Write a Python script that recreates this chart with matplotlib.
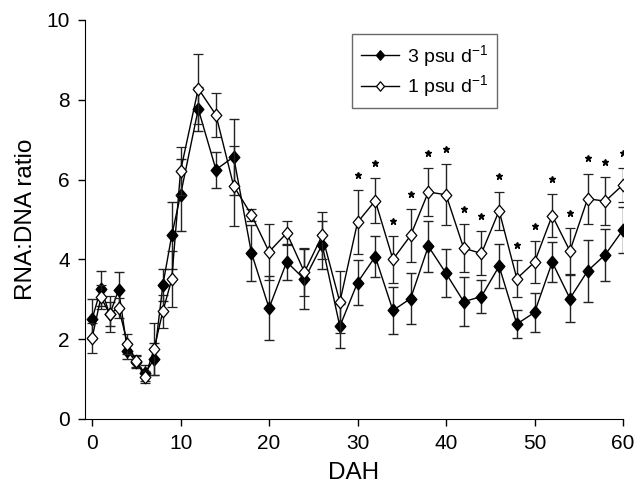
import numpy as np
import matplotlib
matplotlib.use('agg')
import matplotlib.pyplot as plt
from matplotlib.path import Path

## data
days = [0, 1, 2, 3, 4, 5, 6, 7, 8, 9, 10, 12, 14, 16, 18, 20, 22, 24, 26, 28,
        30, 32, 34, 36, 38, 40, 42, 44, 46, 48, 50, 52, 54, 56, 58, 60]

psu3 = [2.50, 3.27, 2.62, 3.24, 1.71, 1.42, 1.15, 1.50, 3.36, 4.60, 5.62, 7.77,
        6.25, 6.57, 4.17, 2.78, 3.94, 3.50, 4.37, 2.32, 3.42, 4.07, 2.72, 3.02,
        4.33, 3.65, 2.94, 3.07, 3.83, 2.38, 2.67, 3.93, 3.02, 3.71, 4.12, 4.74]
psu3_err = [0.50, 0.43, 0.30, 0.45, 0.20, 0.15, 0.20, 0.40, 0.40, 0.85, 0.90, 0.55,
            0.45, 0.95, 0.70, 0.80, 0.45, 0.75, 0.60, 0.55, 0.56, 0.52, 0.60, 0.65,
            0.64, 0.60, 0.62, 0.42, 0.55, 0.35, 0.50, 0.50, 0.60, 0.78, 0.65, 0.58]

psu1 = [2.03, 3.05, 2.63, 2.79, 1.89, 1.45, 1.05, 1.75, 2.70, 3.50, 6.22, 8.28,
        7.62, 5.84, 5.12, 4.19, 4.66, 3.68, 4.60, 2.93, 4.93, 5.47, 4.00, 4.60,
        5.69, 5.62, 4.28, 4.15, 5.22, 3.52, 3.93, 5.10, 4.21, 5.52, 5.46, 5.87]
psu1_err = [0.38, 0.30, 0.45, 0.25, 0.25, 0.15, 0.15, 0.65, 0.42, 0.70, 0.60, 0.88,
            0.55, 1.00, 0.15, 0.70, 0.30, 0.60, 0.60, 0.77, 0.80, 0.56, 0.58, 0.67,
            0.60, 0.77, 0.60, 0.55, 0.48, 0.47, 0.53, 0.53, 0.57, 0.63, 0.60, 0.42]

# days with a significant difference (asterisk)
sig_days = [30, 32, 34, 36, 38, 40, 42, 44, 46, 48, 50, 52, 54, 56, 58, 60]

plt.rcParams['font.family'] = ['Liberation Sans', 'DejaVu Sans']
plt.rcParams['mathtext.fontset'] = 'custom'
plt.rcParams['mathtext.rm'] = 'Liberation Sans'
plt.rcParams['mathtext.it'] = 'Liberation Sans'

# slightly tall diamond like the original figure
diamond = Path([(0, 1), (0.85, 0), (0, -1), (-0.85, 0), (0, 1)],
               [Path.MOVETO, Path.LINETO, Path.LINETO, Path.LINETO, Path.CLOSEPOLY])

fig = plt.figure(figsize=(6.43, 4.87), dpi=100)
ax = fig.add_axes([85/643, 68/487, 538/643, 399/487])

eb3 = ax.errorbar(days, psu3, yerr=psu3_err, color='black', ecolor='#222222',
                  elinewidth=1, capsize=3.8, capthick=1, lw=1, marker=diamond, ms=9,
                  mfc='black', mec='black', zorder=2)
eb1 = ax.errorbar(days, psu1, yerr=psu1_err, color='black', ecolor='#222222',
                  elinewidth=1, capsize=3.8, capthick=1, lw=1, marker=diamond, ms=9,
                  mfc='white', mec='black', mew=0.9, zorder=3)

# asterisks above the upper error bar of the 1 psu series
star_y = [psu1[days.index(d)] + psu1_err[days.index(d)] + 0.38 for d in sig_days]
ax.plot(sig_days, star_y, ls='none', marker='*', ms=5, color='black')

ax.set_xlim(-0.8, 60)
ax.set_ylim(0, 10)
ax.set_xticks(range(0, 61, 10))
ax.set_yticks(range(0, 11, 2))
ax.spines['top'].set_visible(False)
ax.spines['right'].set_visible(False)
ax.tick_params(direction='out', length=5, width=1, labelsize=15, pad=6)
ax.set_xlabel('DAH', fontsize=17.5, labelpad=6)
ax.set_ylabel('RNA:DNA ratio', fontsize=17.5, labelpad=7)

leg = ax.legend([eb3.lines[0], eb1.lines[0]], ['3 psu d$^{-1}$', '1 psu d$^{-1}$'],
                loc='upper left', bbox_to_anchor=(0.496, 0.965), borderaxespad=0,
                fontsize=14, frameon=True, fancybox=False, edgecolor='#444444',
                handlelength=2.0, handletextpad=0.4, borderpad=0.45,
                labelspacing=0.25, markerscale=0.75)
leg.get_frame().set_linewidth(1)

plt.savefig('out.png', dpi=100)
